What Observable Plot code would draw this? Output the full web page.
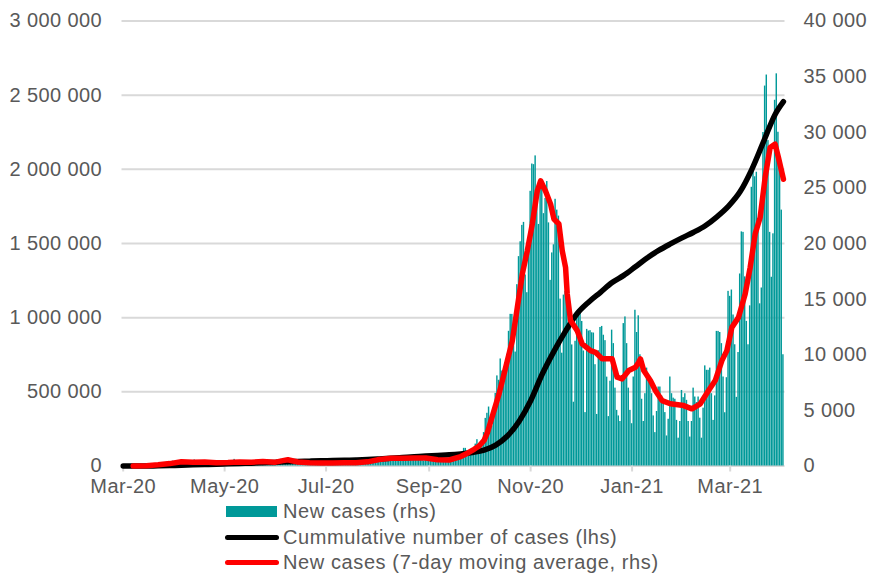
<!DOCTYPE html>
<html>
<head>
<meta charset="utf-8">
<script src="https://cdn.jsdelivr.net/npm/d3@7"></script>
<script src="https://cdn.jsdelivr.net/npm/@observablehq/plot@0.6"></script>
<style>
  html, body { margin: 0; padding: 0; background: #fff; }
  body { width: 869px; height: 578px; overflow: hidden; font-family: "Liberation Sans", Arial, sans-serif; }
  #legend { position: relative; height: 80px; font-size: 20px; color: #595959; letter-spacing: 0.6px; }
  .row { position: absolute; left: 0; height: 26px; width: 869px; }
  .sw { position: absolute; }
  .lab { position: absolute; left: 283px; top: 0; line-height: 26px; white-space: nowrap; }
</style>
</head>
<body>
<div id="chart"></div>
<div id="legend">
  <div class="row" style="top:0px"><div class="sw" style="left:226px;top:7.5px;width:51px;height:11px;background:#009999"></div><div class="lab">New cases (rhs)</div></div>
  <div class="row" style="top:26px"><div class="sw" style="left:225px;top:10.5px;width:54px;height:5px;border-radius:2.5px;background:#000"></div><div class="lab">Cummulative number of cases (lhs)</div></div>
  <div class="row" style="top:51px"><div class="sw" style="left:225px;top:10.5px;width:54px;height:5px;border-radius:2.5px;background:#ff0000"></div><div class="lab">New cases (7-day moving average, rhs)</div></div>
</div>
<script>
// ---- Daily new cases (right axis), first value = 2020-03-04 ----
const firstDay = "2020-03-04";
const casesMar20 = [1,0,4,1,5,6,5,9,20,17,36,14,55,27,46,105,69,111,115,115,152,150,170,168,249,224,193,256];
const casesApr20 = [243,392,437,244,475,311,357,370,380,401,268,260,380,336,461,545,263,308,313,263,381,355,344,460,316,241,306,285,215,376];
const casesMay20 = [267,264,318,280,307,351,330,380,382,595,306,279,307,300,307,305,256,433,341,316,325,443,395,416,450,312,395,299,292,290,380];
const casesJun20 = [292,230,361,292,576,575,599,376,282,395,440,506,326,407,375,314,385,371,355,301,229,311,302,300,371,292,301,260,230,281];
const casesJul20 = [371,330,280,357,262,243,299,290,360,358,299,233,265,299,257,315,358,339,294,310,311,337,418,379,358,443,337,512,512,657,615];
const casesAug20 = [658,680,680,599,680,726,809,843,832,548,600,631,811,832,809,798,610,597,661,832,903,811,835,548,594,887,767,900,658,580,550];
const casesSep20 = [446,590,555,602,508,599,596,596,609,631,757,568,585,376,457,600,756,1002,1002,757,747,744,975,1136,1587,1584,1350,1306,1326,1300];
const casesOct20 = [1552,1967,2367,1934,1584,2236,3003,4280,4739,5300,4178,3602,5068,6526,8099,7705,9622,8536,7482,9291,10040,12107,13632,13628,11742,10241,16300,18820,20156,21629,21897];
const casesNov20 = [17171,15578,19364,24692,27143,27086,27875,24785,21713,25484,25221,22683,24051,25571,21854,16687,19152,19883,23975,23000,22464,15002,10139,15362,15698,17064,15178,13855,10882,5733];
const casesDec20 = [11212,13454,14001,13812,12993,10338,4800,12281,12130,12164,11974,11951,9105,4633,10360,12451,12546,11755,11267,7988,4440,7620,12211,11000,7000,5000,4500,4000,8000,12800,13400];
const casesJan21 = [11000,7000,5000,3800,8000,14000,12000,13500,10000,6000,4000,6500,8800,8200,8000,6500,4500,3000,4900,7100,7100,6300,5700,4800,2700,4200,8000,6500,6100,6000,4100];
const casesFeb21 = [2500,4000,6789,6144,6496,5900,4000,2600,4000,7000,6200,5700,6200,4300,2500,5200,9000,8600,8600,8800,6500,4100,6300,12100,12100,12000,11000,8000];
const casesMar21 = [4786,7937,15698,15250,15817,13574,10896,6170,10200,17260,21045,21000,17000,13000,10896,14396,25052,27278,25998,26405,21849,14578,16000,29978,34151,35143,29253,21000,16965,20870,32874];
const casesApr21 = [35251,30000,27000,23000,10000];

// ---- 7-day moving average (right axis) ----
const maDates = ["2020-03-10","2020-03-18","2020-03-25","2020-04-01","2020-04-08","2020-04-15","2020-04-22","2020-04-29","2020-05-06","2020-05-13","2020-05-20","2020-05-27","2020-06-03","2020-06-08","2020-06-11","2020-06-17","2020-06-24","2020-07-01","2020-07-08","2020-07-15","2020-07-22","2020-07-29","2020-08-05","2020-08-12","2020-08-19","2020-08-26","2020-09-02","2020-09-09","2020-09-16","2020-09-23","2020-09-27","2020-10-01","2020-10-04","2020-10-07","2020-10-09","2020-10-11","2020-10-16","2020-10-21","2020-10-24","2020-10-27","2020-10-30","2020-11-02","2020-11-05","2020-11-08","2020-11-10","2020-11-13","2020-11-16","2020-11-18","2020-11-21","2020-11-23","2020-11-25","2020-11-26","2020-11-28","2020-12-02","2020-12-05","2020-12-10","2020-12-13","2020-12-17","2020-12-23","2020-12-26","2020-12-29","2021-01-02","2021-01-06","2021-01-08","2021-01-09","2021-01-11","2021-01-15","2021-01-18","2021-01-22","2021-01-27","2021-02-04","2021-02-09","2021-02-14","2021-02-19","2021-02-23","2021-02-27","2021-03-02","2021-03-05","2021-03-09","2021-03-13","2021-03-16","2021-03-19","2021-03-22","2021-03-25","2021-03-28","2021-03-31","2021-04-02","2021-04-05"];
const maValues = [5,30,110,215,380,340,370,300,315,355,335,400,330,480,560,360,300,280,275,290,295,375,580,700,700,720,720,560,540,850,1150,1500,1800,2300,3000,4000,6480,9470,11270,14260,17260,19350,21750,24740,25640,24700,23540,22200,21750,19350,17850,15460,13070,12170,10970,10370,10220,9630,9630,7980,7830,8580,8870,9320,9630,8580,7680,6780,5880,5590,5430,5140,5590,6780,7680,9470,10370,12460,13360,15460,17850,20850,22340,25930,28630,28930,27730,25780];

// ---- Cumulative number of cases (left axis) ----
const cumDates = ["2020-03-04","2020-03-11","2020-03-18","2020-03-25","2020-04-01","2020-04-08","2020-04-15","2020-04-22","2020-04-29","2020-05-06","2020-05-13","2020-05-20","2020-05-27","2020-06-03","2020-06-10","2020-06-17","2020-06-24","2020-07-01","2020-07-08","2020-07-15","2020-07-22","2020-07-29","2020-08-05","2020-08-12","2020-08-19","2020-08-26","2020-09-02","2020-09-09","2020-09-16","2020-09-23","2020-09-30","2020-10-07","2020-10-14","2020-10-21","2020-10-28","2020-11-04","2020-11-11","2020-11-18","2020-11-25","2020-12-02","2020-12-09","2020-12-16","2020-12-23","2020-12-30","2021-01-06","2021-01-13","2021-01-20","2021-01-27","2021-02-03","2021-02-10","2021-02-17","2021-02-24","2021-03-03","2021-03-10","2021-03-17","2021-03-24","2021-03-31","2021-04-05"];
const cumValues = [1,31,251,1051,2554,5205,7582,10169,12218,14431,16921,19268,22074,24395,28201,30701,32821,34775,36689,38721,40783,43402,47469,52410,57279,62310,67372,71344,75134,81824,91514,107000,141000,202000,300000,440000,620000,773000,909000,1028000,1106000,1171000,1237000,1285000,1343000,1402000,1453000,1497000,1538000,1576000,1620000,1680000,1752000,1850000,2000000,2185000,2370000,2456000];

// ---- Axis ticks ----
const xTickDates = ["2020-03-04","2020-05-04","2020-07-04","2020-09-04","2020-11-04","2021-01-04","2021-03-04"];
const leftTicks = [0,500000,1000000,1500000,2000000,2500000,3000000];
const rightTicks = [0,5000,10000,15000,20000,25000,30000,35000,40000];
const leftMax = 3000000, rightMax = 40000;

// ---- build ----
const DAY = 864e5;
const parse = s => new Date(s + "T00:00:00Z");
const t0 = +parse(firstDay);
const allCases = [].concat(casesMar20, casesApr20, casesMay20, casesJun20, casesJul20, casesAug20, casesSep20, casesOct20, casesNov20, casesDec20, casesJan21, casesFeb21, casesMar21, casesApr21);
const daily = allCases.map((v, i) => ({date: new Date(t0 + i * DAY), value: v}));
const ma = maDates.map((d, i) => ({date: parse(d), value: maValues[i]}));
const k = rightMax / leftMax;
const cum = cumDates.map((d, i) => ({date: parse(d), value: cumValues[i] * k}));
const lastT = +daily[daily.length - 1].date;

const locale = d3.formatLocale({decimal: ".", thousands: " ", grouping: [3], currency: ["", ""]});
const fmt = locale.format(",.0f");

const chart = Plot.plot({
  width: 869,
  height: 498,
  marginLeft: 121.5,
  marginRight: 84.5,
  marginTop: 20.5,
  marginBottom: 32.5,
  style: {fontFamily: "'Liberation Sans', Arial, sans-serif", fontSize: "20px", color: "#595959", background: "#fff", overflow: "visible", letterSpacing: "0.4px"},
  x: {type: "utc", domain: [new Date(t0 - 0.72 * DAY), new Date(lastT + 0.95 * DAY)], axis: null},
  y: {domain: [0, rightMax], axis: null},
  marks: [
    Plot.ruleY(leftTicks.map(v => v * k), {stroke: "#d9d9d9", strokeWidth: 2}),
    Plot.rectY(daily, {x1: d => new Date(+d.date - 0.43 * DAY), x2: d => new Date(+d.date + 0.43 * DAY), y1: 0, y2: "value", fill: "#009999"}),
    Plot.axisX(xTickDates.map(parse), {tickFormat: d3.utcFormat("%b-%y"), tickSize: 6, tickPadding: 7, stroke: "#d9d9d9", strokeWidth: 2, fill: "#595959", fontSize: 20, label: null}),
    Plot.lineY(cum, {x: "date", y: "value", curve: "monotone-x", stroke: "#000", strokeWidth: 5.5, strokeLinejoin: "round", strokeLinecap: "round"}),
    Plot.lineY(ma, {x: "date", y: "value", stroke: "#ff0000", strokeWidth: 5.5, strokeLinejoin: "round", strokeLinecap: "round"}),
    Plot.axisY(leftTicks.map(v => v * k), {anchor: "left", tickSize: 0, tickPadding: 20, tickFormat: d => fmt(Math.round(d / k)), fill: "#595959", fontSize: 20, label: null}),
    Plot.axisY(rightTicks, {anchor: "right", tickSize: 0, tickPadding: 18.5, textAnchor: "start", tickFormat: d => fmt(d), fill: "#595959", fontSize: 20, label: null})
  ]
});
document.getElementById("chart").appendChild(chart);
</script>
</body>
</html>
